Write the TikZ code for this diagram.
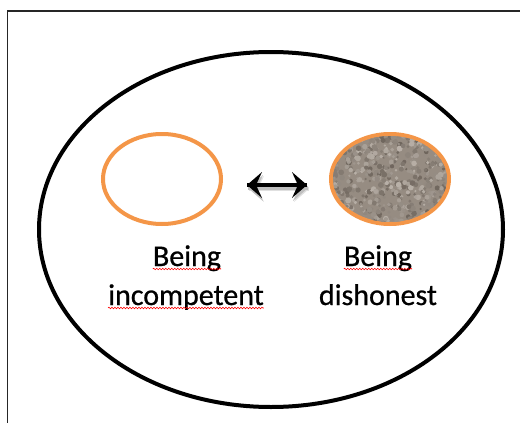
\documentclass[tikz,border=0pt]{standalone}
\usepackage{fontspec}
\setmainfont[FakeBold=0.7]{Carlito}
\usetikzlibrary{shapes.geometric}
\usetikzlibrary{decorations.pathmorphing,positioning}
\definecolor{ringorange}{RGB}{244,150,72}
\definecolor{gravel}{RGB}{150,140,130}
\definecolor{gravel light}{RGB}{210,203,195}
\definecolor{gravel dark}{RGB}{85,76,68}
\tikzset{
  outer ring/.style={ellipse,draw,line width=4pt,minimum width=464pt,minimum height=355pt,inner sep=0pt},
  small ring/.style={ellipse,draw=ringorange,line width=4pt,minimum width=118pt,minimum height=90pt,inner sep=0pt},
  word/.style={font=\fontsize{30}{38}\selectfont,inner sep=0pt,anchor=base,text=black},
  spell mark/.style={red,line width=0.6pt,decorate,decoration={snake,amplitude=0.8pt,segment length=3pt}},
  shaft/.style={line width=3.5pt}
}
\begin{document}
\begin{tikzpicture}[x=1pt,y=-1pt]
    \useasboundingbox (0,0) rectangle (520,423);
    \draw[line width=1.5pt,black!85] (7.5,423) |- (520,11);

    \node[outer ring] (world) at (271,229.5) {};
    \node[small ring] (incomp) at (162,179) {};
    \node[small ring,fill=gravel] (dishon) at (390,179) {};

    % stones inside the filled ring
    \begin{scope}
      \clip (dishon.center) ellipse [x radius=57pt, y radius=43pt];
      \pgfmathsetseed{11}
      \foreach \i in {1,...,600}{
        \pgfmathsetmacro\stonex{390+58*rand}
        \pgfmathsetmacro\stoney{179+44*rand}
        \pgfmathsetmacro\stonemix{100*rnd}
        \pgfmathsetmacro\stonesize{1.2+1.8*rnd}
        \fill[gravel light!\stonemix!gravel dark!60!gravel] (\stonex,\stoney) circle [radius=\stonesize pt];
      }
    \end{scope}

    % two-way arrow between the rings, with its shadow
    \coordinate (linkL) at ([xshift=24pt,yshift=-6pt]incomp.east);
    \coordinate (linkR) at ([xshift=-22pt,yshift=-6pt]dishon.west);
    \foreach \dx/\dy/\ink in {2/4/black!12,1/3/black!25,0/0/black}{
      \draw[shaft,\ink] ([xshift=\dx pt,yshift=-\dy pt]linkL) -- ([xshift=\dx pt,yshift=-\dy pt]linkR);
      \fill[\ink] ([xshift=\dx pt,yshift=-\dy pt]linkL) -- ++(15,-13) -- ++(-6,13) -- ++(6,13) -- cycle;
      \fill[\ink] ([xshift=\dx pt,yshift=-\dy pt]linkR) -- ++(-15,-13) -- ++(6,13) -- ++(-6,13) -- cycle;
    }

    \node[word] (being1) at (187,266) {Being};
    \node[word] (incompword) at (186,305) {incompetent};
    \node[word] (being2) at (378,266) {Being};
    \node[word] (dishonword) at (378,305) {dishonest};

    \draw[spell mark] ([yshift=-3pt]being1.base west) -- ([yshift=-3pt]being1.base east);
    \draw[spell mark] ([yshift=-3pt]incompword.base west) -- ([yshift=-3pt]incompword.base east);
    \draw[spell mark] ([yshift=-3pt]being2.base west) -- ([yshift=-3pt]being2.base east);
\end{tikzpicture}
\end{document}
